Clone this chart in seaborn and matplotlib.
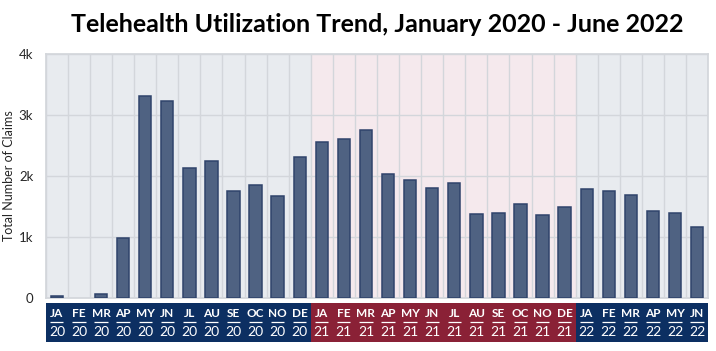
import numpy as np
import pandas as pd
import seaborn as sns
import matplotlib.pyplot as plt

months = ['JA', 'FE', 'MR', 'AP', 'MY', 'JN', 'JL', 'AU', 'SE', 'OC', 'NO', 'DE'] * 2 + \
         ['JA', 'FE', 'MR', 'AP', 'MY', 'JN']
years = ['20'] * 12 + ['21'] * 12 + ['22'] * 6
claims = [30, 0, 60, 990, 3320, 3230, 2130, 2240, 1760, 1860, 1670, 2320,
          2560, 2610, 2750, 2030, 1930, 1810, 1880, 1370, 1400, 1540, 1360, 1490,
          1790, 1760, 1690, 1420, 1400, 1160]
yticks = [0, 1000, 2000, 3000, 4000]
ytick_labels = ['0', '1k', '2k', '3k', '4k']

df = pd.DataFrame({'label': [m + '\n' + y for m, y in zip(months, years)],
                   'year': years, 'claims': claims})

sns.set_theme(style='white')
plt.rcParams['font.family'] = ['Lato', 'DejaVu Sans']

fig = plt.figure(figsize=(7.16, 3.51), dpi=100)
ax = fig.add_axes([0.064, 0.151, 0.925, 0.695])
band = fig.add_axes([0.064, 0.026, 0.925, 0.111])

bg = {'20': '#e8ebef', '21': '#f5e9ed', '22': '#e8ebef'}
bandc = {'20': '#0c2f62', '21': '#8a2136', '22': '#0c2f62'}
n = len(df)
for yr in ['20', '21', '22']:
    idx = df.index[df['year'] == yr]
    ax.axvspan(idx.min() - 0.5, idx.max() + 0.5, color=bg[yr], zorder=0, lw=0)
    band.axvspan(idx.min() - 0.5, idx.max() + 0.5, color=bandc[yr], lw=0)

sns.barplot(data=df, x='label', y='claims', color='#4f6282', width=0.56,
            edgecolor='#2f436b', linewidth=1.1, saturation=1, ax=ax, zorder=3)
for p in ax.patches:
    if p.get_height() == 0:
        p.set_linewidth(0)

for i in range(n + 1):
    ax.axvline(i - 0.5, color='#d3d6db', lw=1, zorder=1)
for t in yticks:
    ax.axhline(t, color='#d3d6db', lw=1, zorder=1)

ax.set_xlim(-0.5, n - 0.5)
ax.set_ylim(0, 4000)
ax.set_yticks(yticks)
ax.set_yticklabels(ytick_labels, fontsize=9.5)
ax.set_xticks([])
ax.set_xlabel('')
ax.set_ylabel('Total Number of Claims', fontsize=9, labelpad=3)
ax.tick_params(axis='y', length=0, pad=9)
for s in ax.spines.values():
    s.set_color('#d3d6db')

band.set_xlim(-0.5, n - 0.5)
band.set_ylim(0, 1)
band.axis('off')
for i, (m, y) in enumerate(zip(months, years)):
    band.text(i, 0.72, m, ha='center', va='center', color='white',
              fontsize=8.5, fontweight='bold')
    band.hlines(0.50, i - 0.3, i + 0.3, color='white', lw=0.9)
    band.text(i, 0.25, y, ha='center', va='center', color='white',
              fontsize=10)

fig.text(0.527, 0.929, 'Telehealth Utilization Trend, January 2020 - June 2022',
         ha='center', va='center', fontsize=18, fontweight='bold', color='black')

fig.savefig('out.png', dpi=100)
